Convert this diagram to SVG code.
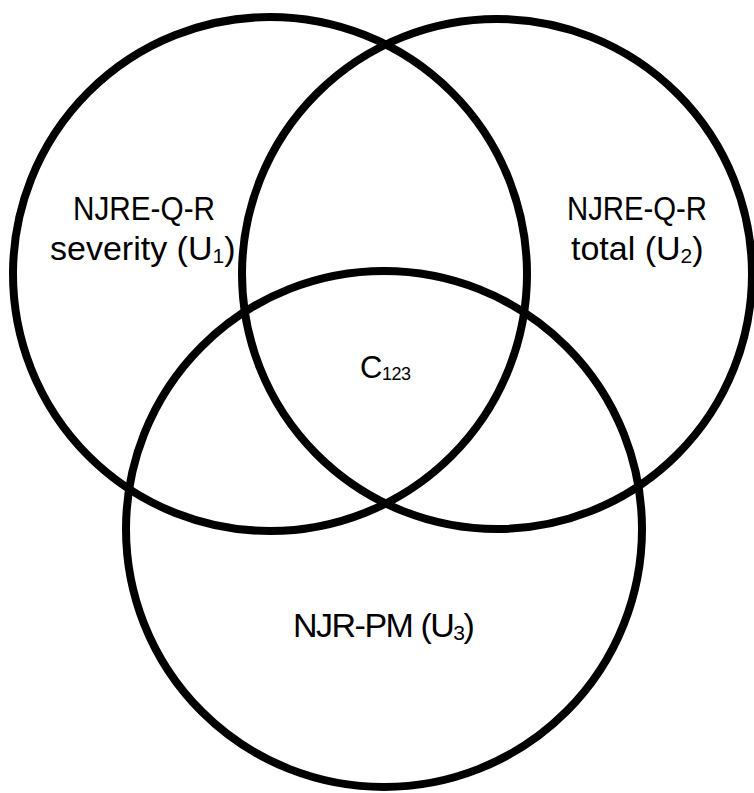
<svg xmlns="http://www.w3.org/2000/svg" width="754" height="793" viewBox="0 0 754 793">
<style>
.c{fill:none;stroke:#000;stroke-width:8}
.t{font-family:"Liberation Sans",Arial,sans-serif;font-size:34px;fill:#000}
.s{font-size:21px}
</style>
<rect width="754" height="793" fill="#fff"/>
<g id="circle-u1"><circle class="c" cx="270" cy="274" r="257"/></g>
<g id="circle-u2"><circle class="c" cx="497" cy="274" r="255"/></g>
<g id="circle-u3"><circle class="c" cx="384" cy="529" r="258"/></g>
<g id="label-u1">
<text class="t" x="73" y="220" textLength="142" lengthAdjust="spacingAndGlyphs">NJRE-Q-R</text>
<text class="t" x="50" y="260">severity (U<tspan class="s" dy="3">1</tspan><tspan dy="-3">)</tspan></text>
</g>
<g id="label-u2">
<text class="t" x="567" y="220" textLength="140" lengthAdjust="spacingAndGlyphs">NJRE-Q-R</text>
<text class="t" x="571" y="260">total (U<tspan class="s" dy="3">2</tspan><tspan dy="-3">)</tspan></text>
</g>
<g id="label-c123">
<text class="t" x="360" y="378" style="font-size:31px;letter-spacing:-0.5px">C<tspan style="font-size:18px" dy="2">123</tspan></text>
</g>
<g id="label-u3">
<text class="t" x="293" y="637" style="letter-spacing:-1.5px">NJR-PM (U<tspan class="s" dy="3">3</tspan><tspan dy="-3">)</tspan></text>
</g>
<g id="connectors"></g>
</svg>
